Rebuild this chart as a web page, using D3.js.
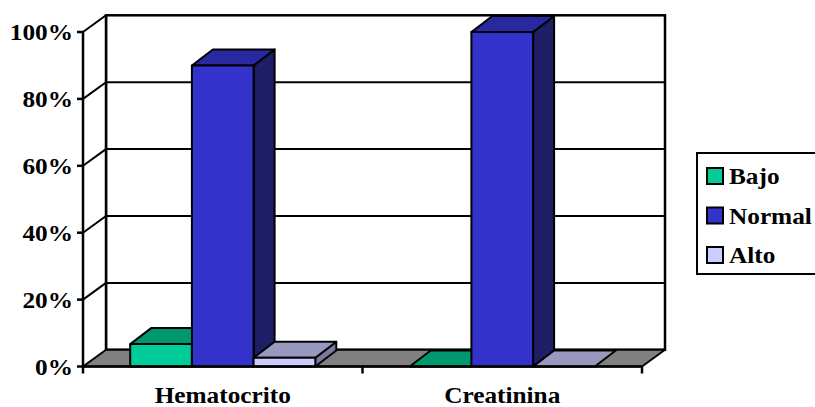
<!DOCTYPE html>
<html>
<head>
<meta charset="utf-8">
<script src="https://cdn.jsdelivr.net/npm/d3@7"></script>
<style>
  html, body { margin: 0; padding: 0; background: #fff; overflow: hidden; }
  svg { display: block; }
  text { font-family: "Liberation Serif", "Times New Roman", serif; font-weight: bold; fill: #000; }
</style>
</head>
<body>
<svg id="chart" width="815" height="407"></svg>
<script>
// Categories, series and values (percent)
const categories = ["Hematocrito", "Creatinina"];
const seriesNames = ["Bajo", "Normal", "Alto"];
const bajo = [6.7, 0];
const normal = [90, 100];
const alto = [2.6, 0];
const yTicks = [0, 20, 40, 60, 80, 100];
const yTickLabels = ["0%", "20%", "40%", "60%", "80%", "100%"];

const seriesValues = [bajo, normal, alto];
const palette = {
  Bajo:   { front: "#00CC99", top: "#00996F", side: "#006B4F" },
  Normal: { front: "#3333CC", top: "#2828A0", side: "#1E1E66" },
  Alto:   { front: "#CCCCFF", top: "#9999C0", side: "#7A7A9C" }
};

const svg = d3.select("#chart");

// 3D frame geometry
const frontLeft = 83, frontRight = 642;
const depthX = 23, depthY = -16.7;       // wall/floor depth offset
const barDX = 21, barDY = -16;           // bar depth offset
const y = d3.scaleLinear().domain([0, 100]).range([366.5, 32]);
const x0 = d3.scaleBand().domain(categories).range([frontLeft, frontRight]).paddingInner(0).paddingOuter(0);
const x1 = d3.scaleBand().domain(seriesNames).range([0, x0.bandwidth()]).paddingInner(0).paddingOuter(0.765);

const pts = a => a.map(p => p.join(",")).join(" ");
const y0 = y(0), yTop = y(100);

// Back wall
svg.append("rect")
  .attr("x", frontLeft + depthX).attr("y", yTop + depthY)
  .attr("width", frontRight - frontLeft).attr("height", y0 - yTop)
  .attr("fill", "#fff").attr("stroke", "#000").attr("stroke-width", 2.5);

// Left side wall
svg.append("polygon")
  .attr("points", pts([[frontLeft, yTop], [frontLeft + depthX, yTop + depthY], [frontLeft + depthX, y0 + depthY], [frontLeft, y0]]))
  .attr("fill", "#fff").attr("stroke", "none");

// Gridlines on back wall and side wall
const grid = svg.append("g").attr("stroke", "#000").attr("stroke-width", 2);
yTicks.filter(v => v > 0 && v < 100).forEach(v => {
  grid.append("line")
    .attr("x1", frontLeft + depthX).attr("x2", frontRight + depthX)
    .attr("y1", y(v) + depthY).attr("y2", y(v) + depthY);
});
yTicks.filter(v => v > 0).forEach(v => {
  grid.append("line")
    .attr("x1", frontLeft).attr("y1", y(v))
    .attr("x2", frontLeft + depthX).attr("y2", y(v) + depthY);
});
// back-left vertical edge
grid.append("line")
  .attr("x1", frontLeft + depthX).attr("x2", frontLeft + depthX)
  .attr("y1", yTop + depthY).attr("y2", y0 + depthY).attr("stroke-width", 2.5);

// Floor
svg.append("polygon")
  .attr("points", pts([[frontLeft, y0], [frontRight, y0], [frontRight + depthX, y0 + depthY], [frontLeft + depthX, y0 + depthY]]))
  .attr("fill", "#808080").attr("stroke", "#000").attr("stroke-width", 2).attr("stroke-linejoin", "round");

// Bars (drawn left to right so nearer faces overlap correctly)
const bars = svg.append("g").attr("stroke", "#000").attr("stroke-width", 2).attr("stroke-linejoin", "round");
categories.forEach((cat, ci) => {
  seriesNames.forEach((s, si) => {
    const v = seriesValues[si][ci];
    const xl = x0(cat) + x1(s), xr = xl + x1.bandwidth();
    const yt = y(v);
    const c = palette[s];
    if (v > 0) {
      bars.append("polygon")
        .attr("points", pts([[xr, yt], [xr + barDX, yt + barDY], [xr + barDX, y0 + barDY], [xr, y0]]))
        .attr("fill", c.side);
    }
    bars.append("polygon")
      .attr("points", pts([[xl, yt], [xl + barDX, yt + barDY], [xr + barDX, yt + barDY], [xr, yt]]))
      .attr("fill", c.top);
    if (v > 0) {
      bars.append("rect")
        .attr("x", xl).attr("y", yt).attr("width", xr - xl).attr("height", y0 - yt)
        .attr("fill", c.front);
    }
  });
});

// Axes lines
const axis = svg.append("g").attr("stroke", "#000").attr("stroke-width", 2.5);
axis.append("line").attr("x1", frontLeft).attr("x2", frontLeft).attr("y1", yTop).attr("y2", y0);
axis.append("line").attr("x1", frontLeft).attr("x2", frontRight).attr("y1", y0).attr("y2", y0);
yTicks.forEach(v => {
  axis.append("line").attr("x1", frontLeft - 6).attr("x2", frontLeft).attr("y1", y(v)).attr("y2", y(v));
});
[frontLeft, x0(categories[1]), frontRight].forEach(xv => {
  axis.append("line").attr("x1", xv).attr("x2", xv).attr("y1", y0).attr("y2", y0 + 7);
});

// Y tick labels
svg.append("g").selectAll("text").data(yTicks).join("text")
  .attr("transform", d => `translate(73,${y(d) + 8}) scale(1.1,1)`)
  .attr("text-anchor", "end").attr("font-size", 23)
  .text((d, i) => yTickLabels[i]);

// Category labels
svg.append("g").selectAll("text").data(categories).join("text")
  .attr("transform", d => `translate(${x0(d) + x0.bandwidth() / 2},403) scale(1.1,1)`)
  .attr("text-anchor", "middle").attr("font-size", 23)
  .text(d => d);

// Legend
const legend = svg.append("g");
legend.append("rect").attr("x", 697).attr("y", 153).attr("width", 140).attr("height", 121)
  .attr("fill", "#fff").attr("stroke", "#000").attr("stroke-width", 2);
seriesNames.forEach((s, i) => {
  const yy = 168 + i * 39.5;
  legend.append("rect").attr("x", 707).attr("y", yy).attr("width", 16).attr("height", 16)
    .attr("fill", palette[s].front).attr("stroke", "#000").attr("stroke-width", 2);
  legend.append("text")
    .attr("transform", `translate(729,${yy + 16}) scale(1.1,1)`)
    .attr("font-size", 23).text(s);
});
</script>
</body>
</html>
